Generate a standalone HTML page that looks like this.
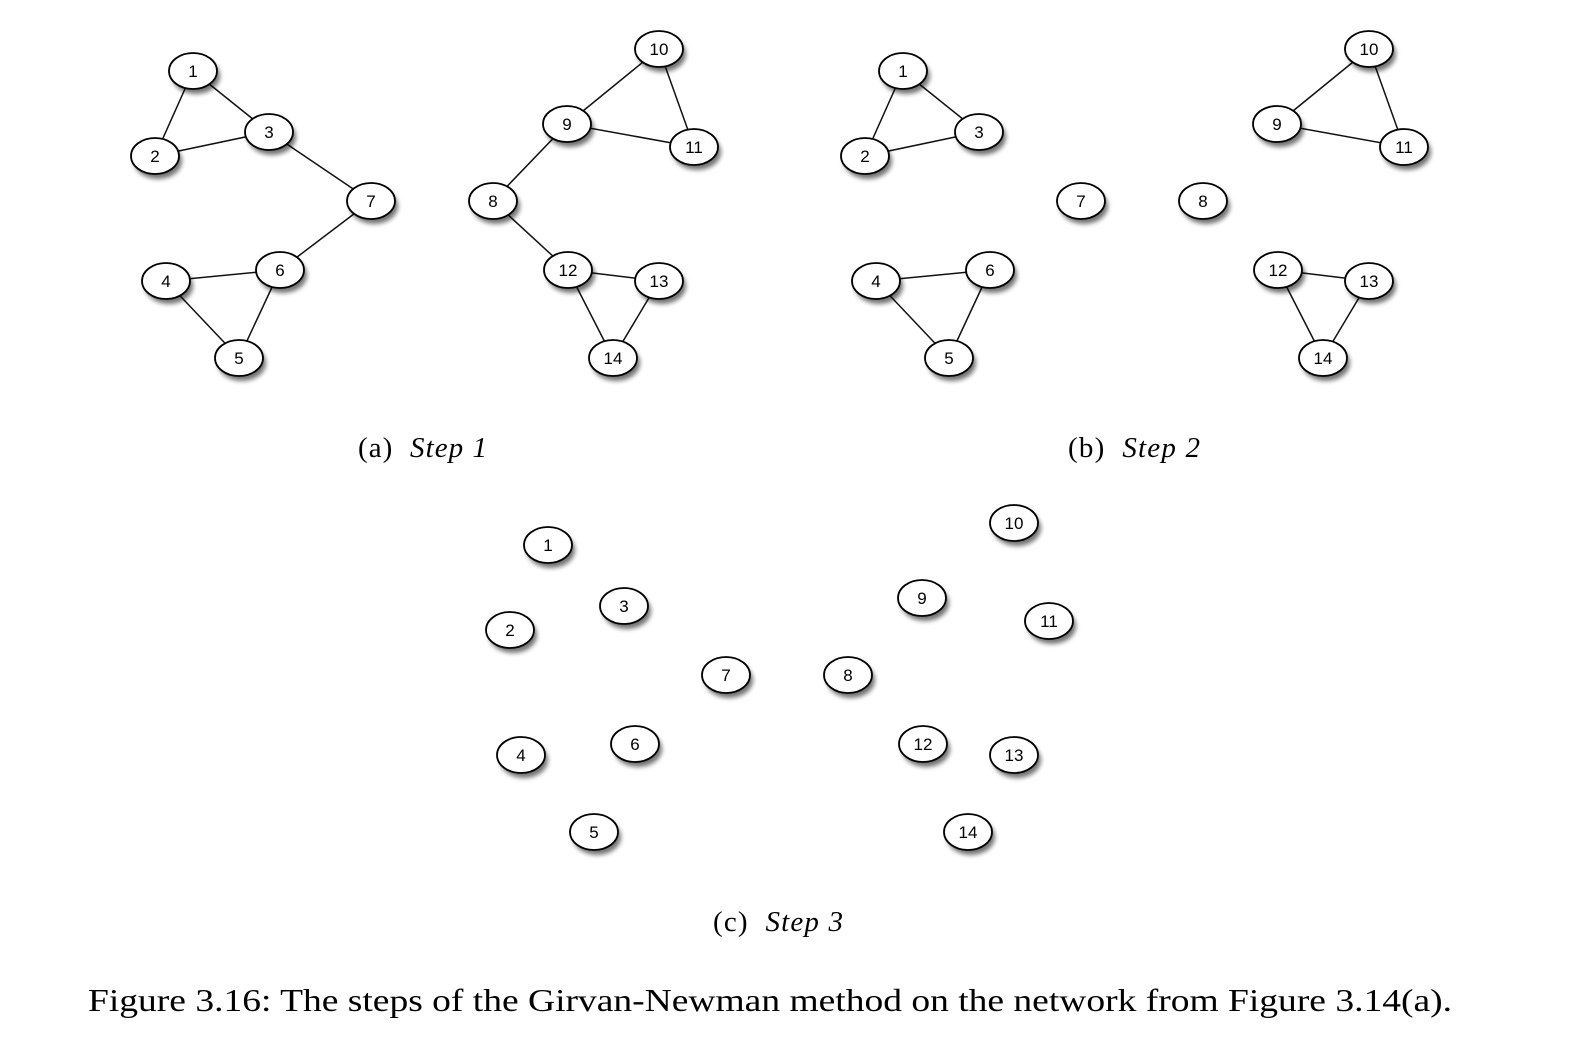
<!DOCTYPE html>
<html><head><meta charset="utf-8"><style>
body{margin:0;background:#fff;}
svg{display:block;}
</style></head><body>
<svg id="s" width="1576" height="1054" xmlns="http://www.w3.org/2000/svg">
<defs><filter id="sh" x="-50%" y="-50%" width="200%" height="200%"><feGaussianBlur stdDeviation="2.5"/></filter></defs>
<g id="g"></g>
<g font-family="Liberation Serif, serif" font-size="29" fill="#000">
<text x="358" y="457" textLength="129" lengthAdjust="spacing" xml:space="preserve">(a)  <tspan font-style="italic">Step 1</tspan></text>
<text x="1068" y="457" textLength="132" lengthAdjust="spacing" xml:space="preserve">(b)  <tspan font-style="italic">Step 2</tspan></text>
<text x="713" y="931" textLength="130" lengthAdjust="spacing" xml:space="preserve">(c)  <tspan font-style="italic">Step 3</tspan></text>
<text x="88" y="1011" font-size="31.5" textLength="1364" lengthAdjust="spacingAndGlyphs">Figure 3.16:  The steps of the Girvan-Newman method on the network from Figure 3.14(a).</text>
</g>
</svg>
<script>
var P={1:[193,71],2:[155,156],3:[269,132],7:[371,201],4:[166,281],6:[280,270],5:[239,358],10:[659,49],9:[567,124],11:[694,147],8:[493,201],12:[568,270],13:[659,281],14:[613,358]};
var E=[[1,2],[1,3],[2,3],[3,7],[7,6],[4,6],[4,5],[6,5],[10,9],[10,11],[9,11],[9,8],[8,12],[12,13],[12,14],[13,14]];
var Eb=[[1,2],[1,3],[2,3],[4,6],[4,5],[6,5],[10,9],[10,11],[9,11],[12,13],[12,14],[13,14]];
var h='';
function panel(edges,fx){
 var pos={};for(var k in P){var o=fx(+k);pos[k]=[P[k][0]+o[0],P[k][1]+o[1]];}
 edges.forEach(function(e){var a=pos[e[0]],b=pos[e[1]];h+='<line x1="'+a[0]+'" y1="'+a[1]+'" x2="'+b[0]+'" y2="'+b[1]+'" stroke="#111" stroke-width="1.5"/>';});
 for(var k in pos){var p=pos[k];
  h+='<ellipse cx="'+(p[0]+3)+'" cy="'+(p[1]+5)+'" rx="24" ry="18" fill="#000" opacity="0.55" filter="url(#sh)"/>';
  h+='<ellipse cx="'+p[0]+'" cy="'+p[1]+'" rx="24" ry="18" fill="#fff" stroke="#000" stroke-width="1.8"/>';
  h+='<text x="'+p[0]+'" y="'+(p[1]+6)+'" text-anchor="middle" font-family="Liberation Sans, sans-serif" font-size="17">'+k+'</text>';}
}
panel(E,function(k){return [0,0];});
panel(Eb,function(k){return [710,0];});
panel([],function(k){return [355,474];});
document.getElementById('g').innerHTML=h;
</script>
</body></html>
